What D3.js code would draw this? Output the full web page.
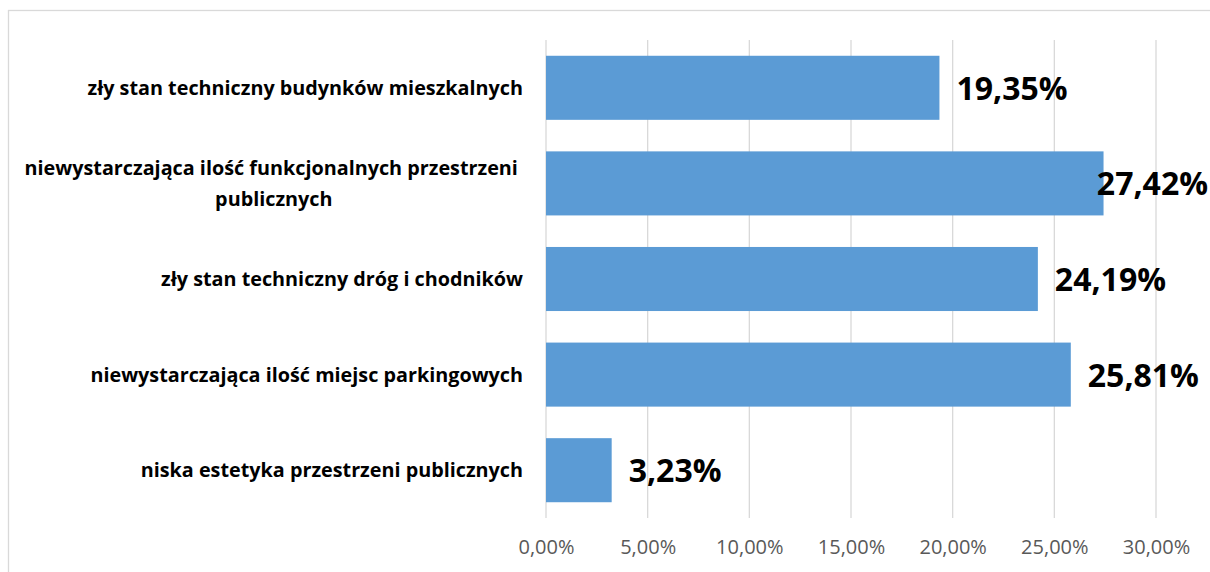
<!DOCTYPE html>
<meta charset="utf-8">
<style>
    body { margin: 0; background: #fff; }
    svg { display: block; font-family: "Open Sans", sans-serif; }
    .grid line { stroke: #d9d9d9; stroke-width: 1.3; }
    .bar { fill: #5b9bd5; }
    .cat { font-weight: bold; font-size: 19.8px; fill: #000; }
    .val { font-weight: bold; font-size: 32px; fill: #000; }
    .tick text { font-size: 20px; fill: #595959; }
</style>
<body>
<script src="https://d3js.org/d3.v7.min.js"></script>
<script>

    // data
    var categories = [
        ["zły stan techniczny budynków mieszkalnych"],
        ["niewystarczająca ilość funkcjonalnych przestrzeni ", "publicznych"],
        ["zły stan techniczny dróg i chodników"],
        ["niewystarczająca ilość miejsc parkingowych"],
        ["niska estetyka przestrzeni publicznych"]
    ];
    var values = [19.35, 27.42, 24.19, 25.81, 3.23];
    var ticks = [0, 5, 10, 15, 20, 25, 30];

    var W = 1210, H = 572;
    var plot = { left: 546, right: 1156, top: 40, bottom: 518 };

    var fmt = function (v) { return v.toFixed(2).replace(".", ",") + "%"; };

    var svg = d3.select("body").append("svg")
        .attr("width", W)
        .attr("height", H);

    // chart area border
    svg.append("rect")
        .attr("x", 8.5).attr("y", 10.5)
        .attr("width", W).attr("height", H)
        .attr("fill", "none")
        .attr("stroke", "#d9d9d9")
        .attr("stroke-width", 1.3);

    var x = d3.scaleLinear()
        .domain([0, 30])
        .range([plot.left, plot.right]);

    var y = d3.scaleBand()
        .domain(d3.range(values.length))
        .range([plot.top, plot.bottom])
        .paddingInner(0.33)
        .paddingOuter(0.165);

    // vertical gridlines
    svg.append("g")
        .attr("class", "grid")
        .selectAll("line")
        .data(ticks)
        .enter().append("line")
        .attr("x1", function (d) { return x(d); })
        .attr("x2", function (d) { return x(d); })
        .attr("y1", plot.top)
        .attr("y2", plot.bottom);

    // x axis labels
    var xAxis = d3.axisBottom(x)
        .tickValues(ticks)
        .tickSize(0)
        .tickPadding(0)
        .tickFormat(fmt);

    svg.append("g")
        .attr("transform", "translate(0," + (plot.bottom + 22) + ")")
        .call(xAxis)
        .call(function (g) { g.select(".domain").remove(); })
        .selectAll("text")
        .attr("font-family", "Open Sans")
        .attr("dy", "0.71em");

    // bars
    svg.selectAll(".bar")
        .data(values)
        .enter().append("rect")
        .attr("class", "bar")
        .attr("x", x(0))
        .attr("y", function (d, i) { return y(i); })
        .attr("width", function (d) { return x(d) - x(0); })
        .attr("height", y.bandwidth());

    // value labels (pushed back inside when they would run off the right edge)
    svg.selectAll(".val")
        .data(values)
        .enter().append("text")
        .attr("class", "val")
        .attr("y", function (d, i) { return y(i) + y.bandwidth() / 2 + 12; })
        .text(fmt)
        .attr("x", function (d) {
            var w = this.getComputedTextLength();
            return Math.min(x(d) + 17, W - 2 - w);
        });

    // category labels
    var lineH = 31;
    var labels = svg.selectAll(".cat")
        .data(categories)
        .enter().append("text")
        .attr("class", "cat")
        .attr("y", function (d, i) {
            return y(i) + y.bandwidth() / 2 + 7 - (d.length - 1) * lineH / 2;
        });

    labels.each(function (lines) {
        var t = d3.select(this);
        if (lines.length === 1) {
            t.attr("text-anchor", "end").attr("x", 523).text(lines[0]);
            return;
        }
        // multi-line: lines centred on each other, block right-aligned
        var tmp = t.append("tspan").attr("xml:space", "preserve").text(lines[0]);
        var w = tmp.node().getComputedTextLength();
        tmp.remove();
        var cx = 523 - w / 2;
        t.attr("text-anchor", "middle");
        lines.forEach(function (s, k) {
            t.append("tspan")
                .attr("x", cx)
                .attr("dy", k === 0 ? 0 : lineH)
                .attr("xml:space", "preserve")
                .text(s);
        });
    });

</script>
</body>
